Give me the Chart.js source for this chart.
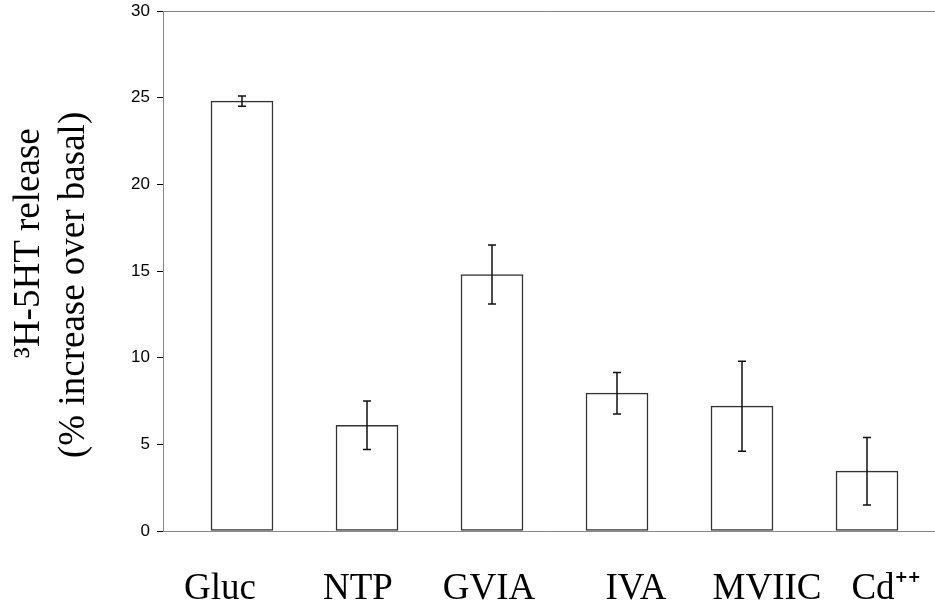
<!DOCTYPE html>
<html>
<head>
<meta charset="utf-8">
<script src="https://cdn.jsdelivr.net/npm/chart.js@4/dist/chart.umd.min.js"></script>
<style>
  body { margin: 0; background: #fff; }
  #wrap { width: 935px; height: 607px; }
</style>
</head>
<body>
<div id="wrap"><canvas id="release-chart" width="935" height="607"></canvas></div>
<script>
// treatments on the x axis
let categories = ['Gluc', 'NTP', 'GVIA', 'IVA', 'MVIIC', 'Cd\u207A\u207A'];
// % increase over basal
let means = [24.8, 6.1, 14.8, 7.95, 7.2, 3.45];
// error bar half-lengths
let errors = [0.3, 1.4, 1.7, 1.2, 2.6, 1.95];
let yTicks = [0, 5, 10, 15, 20, 25, 30];

// labels in the original sit a bit off the bar centres
let labelNudge = [-0.176, -0.072, -0.024, 0.152, 0.2, 0.152];

const serif = "'Liberation Serif', 'Times New Roman', serif";

const errorBars = {
    id: 'errorBars',
    afterDatasetsDraw(chart) {
        const {ctx, scales: {x, y}} = chart;
        ctx.save();
        ctx.strokeStyle = '#111';
        ctx.lineWidth = 1.5;
        means.forEach((m, i) => {
            const px = x.getPixelForValue(i);
            const top = y.getPixelForValue(m + errors[i]);
            const bot = y.getPixelForValue(m - errors[i]);
            ctx.beginPath();
            ctx.moveTo(px, top); ctx.lineTo(px, bot);
            ctx.moveTo(px - 4, top); ctx.lineTo(px + 4, top);
            ctx.moveTo(px - 4, bot); ctx.lineTo(px + 4, bot);
            ctx.stroke();
        });
        ctx.restore();
    }
};

let renderChart = () => {
    let canvas = document.getElementById('release-chart');
    new Chart(canvas, {
        type: 'bar',
        data: {
            datasets: [{
                data: means.map((v, i) => ({x: i, y: v})),
                backgroundColor: '#fff',
                borderColor: '#333',
                borderWidth: 1.5,
                borderSkipped: false,
                barThickness: 62,
            }],
        },
        options: {
            responsive: false,
            animation: false,
            layout: {padding: {top: 11, right: 0, left: 0, bottom: 0}},
            plugins: {legend: {display: false}, tooltip: {enabled: false}},
            scales: {
                x: {
                    type: 'linear',
                    offset: false,
                    min: -0.632,
                    max: 5.544,
                    afterBuildTicks: s => {
                        s.ticks = labelNudge.map((n, i) => ({value: i + n}));
                    },
                    afterFit: s => {
                        s.height = 76;
                        s.paddingLeft = 0;
                        s.paddingRight = 0;
                    },
                    grid: {display: false, drawTicks: false},
                    border: {color: '#888', width: 1},
                    ticks: {
                        autoSkip: false,
                        maxRotation: 0,
                        padding: 36,
                        color: '#000',
                        font: {family: serif, size: 37},
                        callback: (v, i) => categories[i],
                    },
                },
                y: {
                    min: 0,
                    max: 30,
                    afterBuildTicks: s => {
                        s.ticks = yTicks.map(v => ({value: v}));
                    },
                    afterFit: s => {
                        s.width = 163;
                        s.paddingTop = 0;
                        s.paddingBottom = 0;
                    },
                    border: {color: '#888', width: 1},
                    grid: {
                        color: c => (c.tick && c.tick.value === 30) ? '#888' : 'rgba(0,0,0,0)',
                        tickColor: '#000',
                        tickLength: 6,
                    },
                    ticks: {
                        padding: 7,
                        color: '#000',
                        font: {family: "'Liberation Sans', Arial, sans-serif", size: 17},
                    },
                    title: {
                        display: true,
                        text: ['      \u00B3H-5HT release', '(% increase over basal)   '],
                        color: '#000',
                        padding: {top: 7, bottom: 0},
                        font: {family: serif, size: 37, lineHeight: 1.22},
                    },
                },
            },
        },
        plugins: [errorBars],
    });
};

renderChart();
</script>
</body>
</html>
